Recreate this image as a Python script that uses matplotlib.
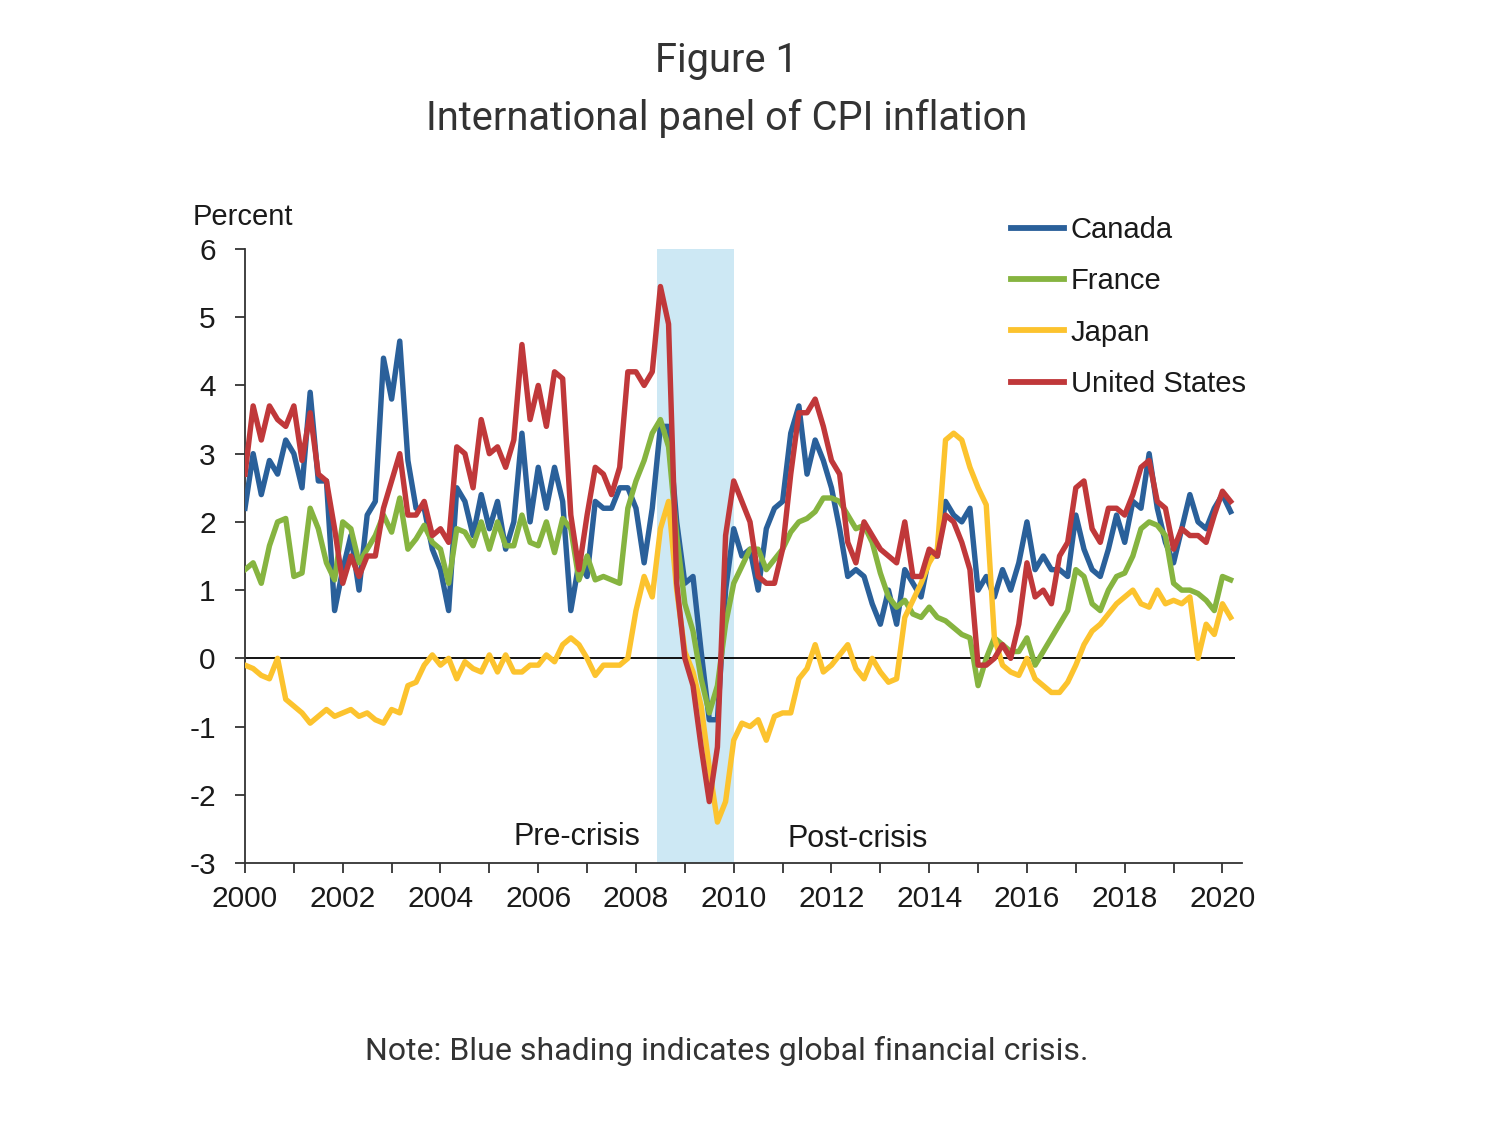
import numpy as np
import matplotlib
matplotlib.use('Agg')
import matplotlib.pyplot as plt

# Bimonthly observations, Jan 2000 .. Mar 2020 (year-over-year CPI, percent)
canada = [
    2.2, 3.0, 2.4, 2.9, 2.7, 3.2,
    3.0, 2.5, 3.9, 2.6, 2.6, 0.7,
    1.3, 1.8, 1.0, 2.1, 2.3, 4.4,
    3.8, 4.65, 2.9, 2.2, 2.2, 1.6,
    1.3, 0.7, 2.5, 2.3, 1.8, 2.4,
    1.9, 2.3, 1.6, 2.0, 3.3, 2.0,
    2.8, 2.2, 2.8, 2.3, 0.7, 1.4,
    1.2, 2.3, 2.2, 2.2, 2.5, 2.5,
    2.2, 1.4, 2.2, 3.4, 3.4, 2.0,
    1.1, 1.2, 0.1, -0.9, -0.9, 1.0,
    1.9, 1.5, 1.6, 1.0, 1.9, 2.2,
    2.3, 3.3, 3.7, 2.7, 3.2, 2.9,
    2.5, 1.9, 1.2, 1.3, 1.2, 0.8,
    0.5, 1.0, 0.5, 1.3, 1.1, 0.9,
    1.5, 1.5, 2.3, 2.1, 2.0, 2.2,
    1.0, 1.2, 0.9, 1.3, 1.0, 1.4,
    2.0, 1.3, 1.5, 1.3, 1.3, 1.2,
    2.1, 1.6, 1.3, 1.2, 1.6, 2.1,
    1.7, 2.3, 2.2, 3.0, 2.2, 1.7,
    1.4, 1.9, 2.4, 2.0, 1.9, 2.2,
    2.4, 2.15,
]
france = [
    1.3, 1.4, 1.1, 1.65, 2.0, 2.05,
    1.2, 1.25, 2.2, 1.9, 1.4, 1.15,
    2.0, 1.9, 1.4, 1.6, 1.8, 2.1,
    1.85, 2.35, 1.6, 1.75, 1.95, 1.7,
    1.6, 1.1, 1.9, 1.85, 1.65, 2.0,
    1.6, 2.0, 1.65, 1.65, 2.1, 1.7,
    1.65, 2.0, 1.55, 2.05, 1.9, 1.15,
    1.5, 1.15, 1.2, 1.15, 1.1, 2.2,
    2.6, 2.9, 3.3, 3.5, 3.1, 1.8,
    0.8, 0.4, -0.3, -0.8, -0.4, 0.5,
    1.1, 1.35, 1.6, 1.6, 1.3, 1.45,
    1.6, 1.85, 2.0, 2.05, 2.15, 2.35,
    2.35, 2.3, 2.1, 1.9, 1.95, 1.7,
    1.25, 0.9, 0.75, 0.85, 0.65, 0.6,
    0.75, 0.6, 0.55, 0.45, 0.35, 0.3,
    -0.4, 0.0, 0.3, 0.2, 0.1, 0.1,
    0.3, -0.1, 0.1, 0.3, 0.5, 0.7,
    1.3, 1.2, 0.8, 0.7, 1.0, 1.2,
    1.25, 1.5, 1.9, 2.0, 1.95, 1.8,
    1.1, 1.0, 1.0, 0.95, 0.85, 0.7,
    1.2, 1.15,
]
japan = [
    -0.1, -0.15, -0.25, -0.3, 0.0, -0.6,
    -0.7, -0.8, -0.95, -0.85, -0.75, -0.85,
    -0.8, -0.75, -0.85, -0.8, -0.9, -0.95,
    -0.75, -0.8, -0.4, -0.35, -0.1, 0.05,
    -0.1, 0.0, -0.3, -0.05, -0.15, -0.2,
    0.05, -0.2, 0.05, -0.2, -0.2, -0.1,
    -0.1, 0.05, -0.05, 0.2, 0.3, 0.2,
    0.0, -0.25, -0.1, -0.1, -0.1, 0.0,
    0.7, 1.2, 0.9, 1.9, 2.3, 1.0,
    0.1, -0.2, -0.7, -1.6, -2.4, -2.1,
    -1.2, -0.95, -1.0, -0.9, -1.2, -0.85,
    -0.8, -0.8, -0.3, -0.15, 0.2, -0.2,
    -0.1, 0.05, 0.2, -0.15, -0.3, 0.0,
    -0.2, -0.35, -0.3, 0.6, 0.85, 1.1,
    1.4, 1.6, 3.2, 3.3, 3.2, 2.8,
    2.5, 2.25, 0.3, -0.1, -0.2, -0.25,
    0.0, -0.3, -0.4, -0.5, -0.5, -0.35,
    -0.1, 0.2, 0.4, 0.5, 0.65, 0.8,
    0.9, 1.0, 0.8, 0.75, 1.0, 0.8,
    0.85, 0.8, 0.9, 0.0, 0.5, 0.35,
    0.8, 0.6,
]
united_states = [
    2.7, 3.7, 3.2, 3.7, 3.5, 3.4,
    3.7, 2.9, 3.6, 2.7, 2.6, 1.9,
    1.1, 1.5, 1.2, 1.5, 1.5, 2.2,
    2.6, 3.0, 2.1, 2.1, 2.3, 1.8,
    1.9, 1.7, 3.1, 3.0, 2.5, 3.5,
    3.0, 3.1, 2.8, 3.2, 4.6, 3.5,
    4.0, 3.4, 4.2, 4.1, 2.1, 1.3,
    2.1, 2.8, 2.7, 2.4, 2.8, 4.2,
    4.2, 4.0, 4.2, 5.45, 4.9, 1.1,
    0.0, -0.4, -1.3, -2.1, -1.3, 1.8,
    2.6, 2.3, 2.0, 1.2, 1.1, 1.1,
    1.6, 2.7, 3.6, 3.6, 3.8, 3.4,
    2.9, 2.7, 1.7, 1.4, 2.0, 1.8,
    1.6, 1.5, 1.4, 2.0, 1.2, 1.2,
    1.6, 1.5, 2.1, 2.0, 1.7, 1.3,
    -0.1, -0.1, 0.0, 0.2, 0.0, 0.5,
    1.4, 0.9, 1.0, 0.8, 1.5, 1.7,
    2.5, 2.6, 1.9, 1.7, 2.2, 2.2,
    2.1, 2.4, 2.8, 2.9, 2.3, 2.2,
    1.6, 1.9, 1.8, 1.8, 1.7, 2.1,
    2.45, 2.3,
]
dates = 2000 + np.arange(len(canada)) / 6

crisis_start, crisis_end = 2008.42, 2010.0

series = [
    ('Canada', canada, '#2a609a'),
    ('France', france, '#86b440'),
    ('Japan', japan, '#fcc32e'),
    ('United States', united_states, '#c0383a'),
]

plt.rcParams['font.family'] = ['Liberation Sans', 'DejaVu Sans']
plt.rcParams['axes.unicode_minus'] = False
text_col = '#1a1a1a'

fig = plt.figure(figsize=(15.05, 11.24), dpi=100)
ax = fig.add_axes([245 / 1505, 1 - 863 / 1124, 997 / 1505, 614 / 1124])

ax.axvspan(crisis_start, crisis_end, color='#cde8f4', lw=0, zorder=0)
ax.hlines(0, 2000, 2020.25, color='black', lw=1.3, zorder=1)

for name, vals, col in series:
    ax.plot(dates, vals, color=col, lw=3.9, label=name, zorder=3,
            solid_joinstyle='round')

ax.set_xlim(2000, 2020.4)
ax.set_ylim(-3, 6)
ax.set_yticks(range(-3, 7))
ax.set_xticks(range(2000, 2021))
ax.set_xticklabels([str(y) if y % 2 == 0 else '' for y in range(2000, 2021)])
ax.tick_params(axis='both', direction='out', length=7, width=1.3,
               labelsize=21.5, colors='#333333', labelcolor=text_col)
ax.tick_params(axis='x', pad=9)
ax.tick_params(axis='y', pad=14)
for s in ['top', 'right']:
    ax.spines[s].set_visible(False)
for s in ['left', 'bottom']:
    ax.spines[s].set_linewidth(1.3)
    ax.spines[s].set_color('#333333')

ax.text(2008.1, -2.62, 'Pre-crisis', ha='right', va='center', fontsize=22, color=text_col)
ax.text(2011.1, -2.65, 'Post-crisis', ha='left', va='center', fontsize=22, color=text_col)

fig.text(193 / 1505, 1 - 217 / 1124, 'Percent', ha='left', va='center',
         fontsize=21, color=text_col)

leg = fig.legend(loc='upper left', bbox_to_anchor=(1011 / 1505, 1 - 216 / 1124),
                 frameon=False, fontsize=21, handlelength=1.8, handletextpad=0.25,
                 labelspacing=0.8, borderpad=0, borderaxespad=0, labelcolor=text_col)
for h in leg.legend_handles:
    h.set_linewidth(4.2)

fig.text(0.483, 1 - 60 / 1124, 'Figure 1', ha='center', va='center',
         fontsize=28.7, family='Roboto', color='#333333')
fig.text(0.483, 1 - 119 / 1124, 'International panel of CPI inflation', ha='center',
         va='center', fontsize=28.7, family='Roboto', color='#333333')
fig.text(0.483, 1 - 1051 / 1124, 'Note: Blue shading indicates global financial crisis.',
         ha='center', va='center', fontsize=23, family='Roboto', color='#333333')

fig.savefig('out.png', dpi=100)
